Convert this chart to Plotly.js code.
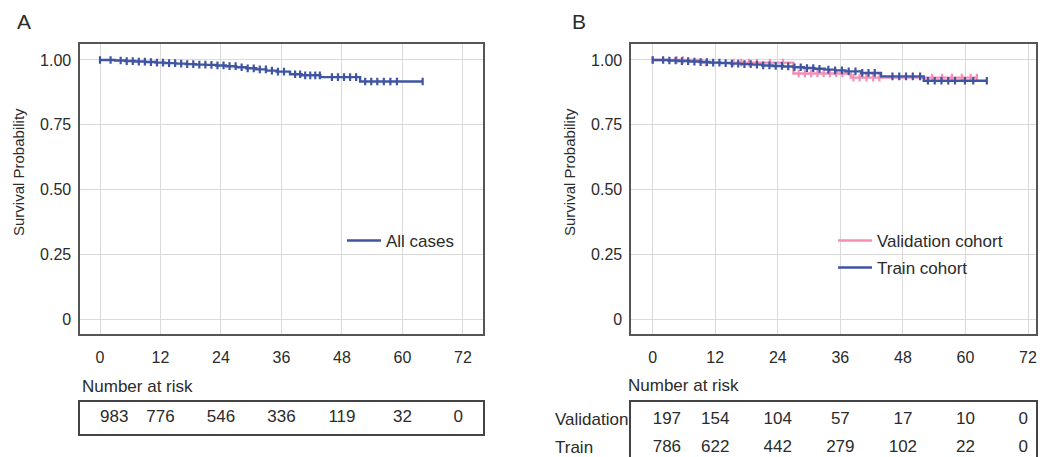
<!DOCTYPE html>
<html>
<head>
<meta charset="utf-8">
<script src="https://cdn.plot.ly/plotly-3.0.1.min.js"></script>
<style>html,body{margin:0;padding:0;background:#fff;}#chart{width:1040px;height:457px;}</style>
</head>
<body>
<div id="chart"></div>
<script>
// ---------- Data ----------
// Panel A: all cases (step function)
const allTimes = [0, 3, 5, 7, 9, 11, 13, 15, 17, 19, 21, 23, 25, 27, 29, 31, 33, 35, 37.7, 40, 43.7, 51.6];
const allSurv  = [1.000, 0.998, 0.996, 0.994, 0.992, 0.990, 0.988, 0.986, 0.984, 0.982, 0.981, 0.979, 0.976, 0.972, 0.968, 0.964, 0.959, 0.955, 0.945, 0.941, 0.934, 0.917];
const allEnd = 64.0;
const allCensor = [0, 2.1, 4.1, 5.3, 6.5, 7.7, 8.9, 10.1, 11.3, 12.5, 13.7, 14.9, 16.1, 17.3, 18.5, 19.7, 20.9, 22.1, 23.3, 24.5, 25.7, 26.9, 28.1, 29.3, 30.5, 31.7, 32.9, 34.1, 35.3, 36.5, 38.7, 39.7, 40.7, 41.7, 42.7, 43.6, 46.0, 47.2, 48.4, 49.6, 50.8, 52.6, 53.8, 55.0, 56.3, 57.6, 58.9, 64.0];

// Panel B: validation cohort
const valTimes = [0, 9.5, 27, 38];
const valSurv  = [1.000, 0.990, 0.948, 0.932];
const valEnd = 62.2;
const valCensor = [0, 4.6, 5.8, 10.2, 15.5, 17.0, 18.5, 20.0, 22.5, 25.0, 28.0, 29.2, 30.4, 31.6, 32.8, 34.0, 35.2, 36.4, 38.5, 39.7, 41.0, 42.3, 43.5, 53.6, 55.5, 57.4, 59.3, 61.0, 62.2];

// Panel B: train cohort
const trainTimes = [0, 3, 5, 7, 9, 11, 13, 15, 17, 19, 21, 23, 25, 27, 29, 31, 33, 35, 37, 40, 43.8, 52];
const trainSurv  = [1.000, 0.998, 0.996, 0.994, 0.992, 0.990, 0.988, 0.986, 0.984, 0.982, 0.979, 0.977, 0.975, 0.972, 0.969, 0.966, 0.963, 0.960, 0.956, 0.950, 0.937, 0.920];
const trainEnd = 64.1;
const trainCensor = [0, 2.0, 3.2, 4.4, 5.6, 6.8, 8.0, 9.2, 10.4, 11.6, 12.8, 14.0, 15.2, 16.4, 17.6, 18.8, 20.0, 21.2, 22.4, 23.6, 24.8, 26.0, 27.2, 28.4, 29.6, 30.8, 32.0, 33.7, 35.0, 36.3, 37.6, 38.9, 40.2, 41.4, 42.6, 46.0, 47.3, 48.6, 49.9, 51.3, 52.8, 54.1, 55.4, 56.7, 58.0, 59.9, 61.5, 64.1];

// Risk table
const riskTicks = [0, 12, 24, 36, 48, 60, 72];
const riskAll   = [983, 776, 546, 336, 119, 32, 0];
const riskVal   = [197, 154, 104, 57, 17, 10, 0];
const riskTrain = [786, 622, 442, 279, 102, 22, 0];

const yTickVals = [0, 0.25, 0.5, 0.75, 1];
const yTickText = ['0', '0.25', '0.50', '0.75', '1.00'];

// ---------- Helpers ----------
function stepXY(times, surv, end) {
  return { x: times.concat([end]), y: surv.concat([surv[surv.length - 1]]) };
}
function stepAt(times, surv, t) {
  let v = surv[0];
  for (let i = 0; i < times.length; i++) { if (times[i] <= t) v = surv[i]; }
  return v;
}

const BLUE = '#3f55a2';
const PINK = '#f48fb4';
const TXT = '#2b2b2b';
const FONT = 'Liberation Sans, Arial, sans-serif';

function kmTraces(times, surv, end, censor, color, name, xa, ya, legend) {
  const s = stepXY(times, surv, end);
  return [
    { type: 'scatter', mode: 'lines', x: s.x, y: s.y, line: { shape: 'hv', color: color, width: 2.4 },
      name: name, xaxis: xa, yaxis: ya, legend: legend, showlegend: true, hoverinfo: 'skip' },
    { type: 'scatter', mode: 'markers', x: censor, y: censor.map(t => stepAt(times, surv, t)),
      marker: { symbol: 'line-ns', size: 5.5, color: color, line: { color: color, width: 2.2 } },
      xaxis: xa, yaxis: ya, showlegend: false, hoverinfo: 'skip' }
  ];
}

function riskTextTrace(vals, yv, xa, ya) {
  return { type: 'scatter', mode: 'text', x: riskTicks, y: riskTicks.map(() => yv),
    text: vals.map(String),
    textposition: riskTicks.map((t, i) => i === 0 ? 'middle right' : (i === riskTicks.length - 1 ? 'middle left' : 'middle center')),
    textfont: { family: FONT, size: 17, color: TXT },
    xaxis: xa, yaxis: ya, showlegend: false, hoverinfo: 'skip', cliponaxis: false };
}

const traces = []
  .concat(kmTraces(allTimes, allSurv, allEnd, allCensor, BLUE, 'All cases', 'x', 'y', 'legend'))
  .concat(kmTraces(valTimes, valSurv, valEnd, valCensor, PINK, 'Validation cohort', 'x2', 'y2', 'legend2'))
  .concat(kmTraces(trainTimes, trainSurv, trainEnd, trainCensor, BLUE, 'Train cohort', 'x2', 'y2', 'legend3'))
  .concat([riskTextTrace(riskAll, 0.5, 'x3', 'y3'),
           riskTextTrace(riskVal, 1, 'x4', 'y4'),
           riskTextTrace(riskTrain, 0, 'x4', 'y4')]);

const W = 1040, H = 457;
const px = v => v / W, py = v => 1 - v / H;

const LINEC = '#555555';
const GRIDC = '#dadada';

const xMain = (dom, rng, anchor) => ({
  domain: dom, range: rng, anchor: anchor, tickvals: riskTicks, ticks: '', ticklabelstandoff: 8,
  showgrid: true, gridcolor: GRIDC, gridwidth: 1, zeroline: false,
  showline: true, mirror: true, linecolor: LINEC, linewidth: 1.6,
  tickfont: { family: FONT, size: 16, color: TXT }, fixedrange: true
});
const yMain = (anchor) => ({
  domain: [py(334), py(43.5)], range: [-0.0567, 1.0636], anchor: anchor,
  tickvals: yTickVals, ticktext: yTickText, ticks: '', ticklabelstandoff: 4,
  showgrid: true, gridcolor: GRIDC, gridwidth: 1, zeroline: false,
  showline: true, mirror: true, linecolor: LINEC, linewidth: 1.6,
  tickfont: { family: FONT, size: 16, color: TXT }, fixedrange: true
});

const domA = [px(80), px(483)], rngA = [-3.967, 75.97];
const domB = [px(631), px(1036)], rngB = [-4.163, 73.535];

const legendBase = (x, y) => ({
  x: x, y: y, xanchor: 'left', yanchor: 'middle', bgcolor: 'rgba(0,0,0,0)', borderwidth: 0,
  itemwidth: 34,
  font: { family: FONT, size: 17, color: TXT }
});

const ann = (text, x, y, opts) => Object.assign({
  text: text, x: x, y: y, xref: 'paper', yref: 'paper', showarrow: false,
  font: { family: FONT, size: 17, color: TXT }, xanchor: 'left', yanchor: 'middle'
}, opts || {});

const layout = {
  width: W, height: H, margin: { l: 0, r: 0, t: 0, b: 0 },
  paper_bgcolor: '#ffffff', plot_bgcolor: '#ffffff',
  xaxis: xMain(domA, rngA, 'y'),
  yaxis: yMain('x'),
  xaxis2: xMain(domB, rngB, 'y2'),
  yaxis2: yMain('x2'),
  xaxis3: { domain: domA, range: rngA, anchor: 'y3', showgrid: false, zeroline: false, showticklabels: false, ticks: '',
            showline: true, mirror: true, linecolor: '#444', linewidth: 1.8, fixedrange: true },
  yaxis3: { domain: [py(434), py(401.7)], range: [0, 1], anchor: 'x3', showgrid: false, zeroline: false, showticklabels: false, ticks: '',
            showline: true, mirror: true, linecolor: '#444', linewidth: 1.8, fixedrange: true },
  xaxis4: { domain: domB, range: rngB, anchor: 'y4', side: 'top', showgrid: false, zeroline: false, showticklabels: false, ticks: '',
            showline: true, mirror: false, linecolor: '#444', linewidth: 1.8, fixedrange: true },
  yaxis4: { domain: [0, py(401.7)], range: [-0.346, 1.629], anchor: 'x4', showgrid: false, zeroline: false, showticklabels: false, ticks: '',
            showline: true, mirror: true, linecolor: '#444', linewidth: 1.8, fixedrange: true },
  legend: legendBase(px(342), py(241)),
  legend2: legendBase(px(833), py(241)),
  legend3: legendBase(px(833), py(268)),
  annotations: [
    ann('A', px(24), py(21.5), { xanchor: 'center', font: { family: FONT, size: 21, color: TXT } }),
    ann('B', px(579), py(21.5), { xanchor: 'center', font: { family: FONT, size: 21, color: TXT } }),
    ann('Survival Probability', px(18.5), py(172.5), { xanchor: 'center', textangle: -90, font: { family: FONT, size: 15, color: TXT } }),
    ann('Survival Probability', px(569.5), py(172.5), { xanchor: 'center', textangle: -90, font: { family: FONT, size: 15, color: TXT } }),
    ann('Number at risk', px(80), py(386)),
    ann('Number at risk', px(626), py(385)),
    { text: 'Validation', x: px(552.7), y: 1, xref: 'paper', yref: 'y4', showarrow: false, xanchor: 'left', yanchor: 'middle',
      font: { family: FONT, size: 17, color: TXT } },
    { text: 'Train', x: px(552.7), y: 0, xref: 'paper', yref: 'y4', showarrow: false, xanchor: 'left', yanchor: 'middle',
      font: { family: FONT, size: 17, color: TXT } }
  ]
};

Plotly.newPlot('chart', traces, layout, { displayModeBar: false, staticPlot: true });
</script>
</body>
</html>
